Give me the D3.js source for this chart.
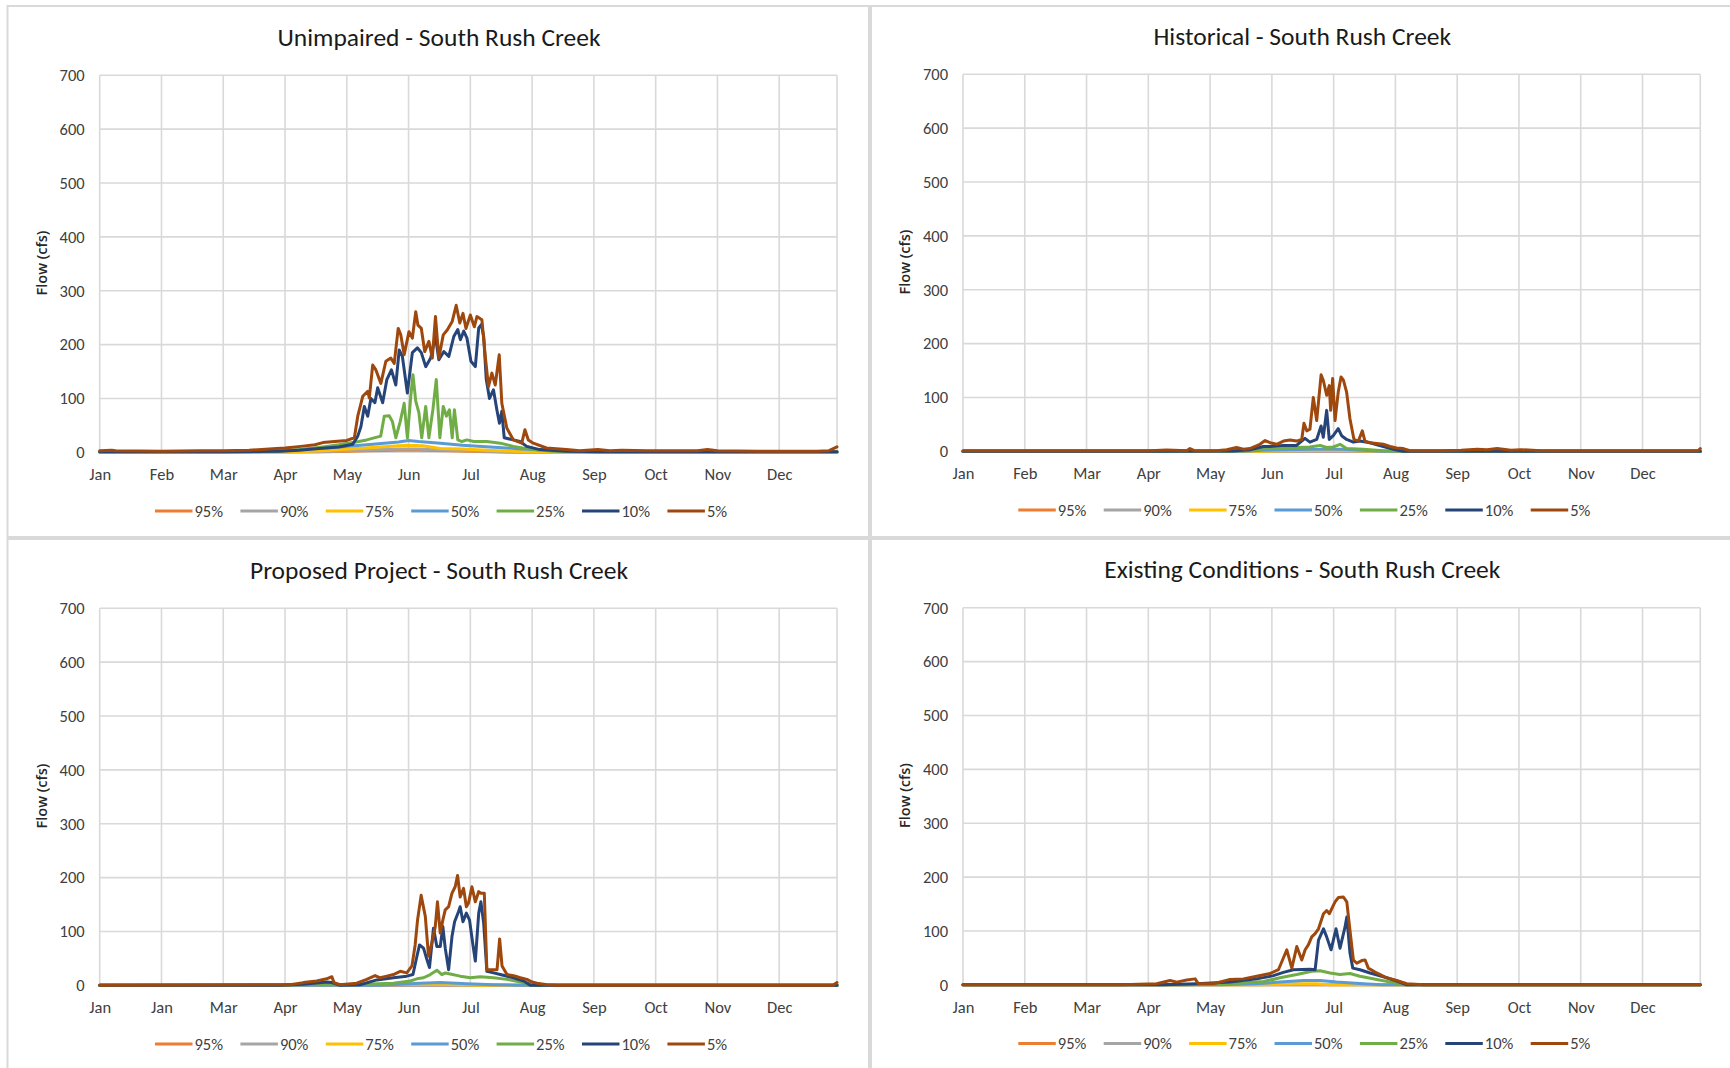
<!DOCTYPE html>
<html><head><meta charset="utf-8">
<script src="https://cdn.jsdelivr.net/npm/d3@7"></script>
<style>
html,body{margin:0;padding:0;background:#fff;}
svg{display:block;}
</style></head>
<body>
<svg id="c" width="1730" height="1068"></svg>
<script>
// ---------- DATA ----------
const seriesNames = ["95%","90%","75%","50%","25%","10%","5%"];
const seriesColors = ["#ED7D31","#A5A5A5","#FFC000","#5B9BD5","#70AD47","#264478","#9E480E"];
const yTicks = [0,100,200,300,400,500,600,700];
const tickDays = [0,31,62,93,124,155,186,217,248,279,310,341];
const monthLabels = ["Jan","Feb","Mar","Apr","May","Jun","Jul","Aug","Sep","Oct","Nov","Dec"];
const monthLabelsProposed = ["Jan","Jan","Mar","Apr","May","Jun","Jul","Aug","Sep","Oct","Nov","Dec"];
const titles = ["Unimpaired - South Rush Creek","Historical - South Rush Creek","Proposed Project - South Rush Creek","Existing Conditions - South Rush Creek"];

// Unimpaired: [day, cfs]
const uni95 = [[0,0],[115,1],[135,3],[150,4],[160,4],[175,3],[195,1],[210,0],[370,0]];
const uni90 = [[0,0],[110,1],[130,4],[150,6],[160,6],[175,4],[195,2],[210,0],[370,0]];
const uni75 = [[0,0],[100,1],[112,3],[137,9],[154,13],[162,12],[171,7],[182,6],[200,3],[213,1],[230,0],[370,0]];
const uni50 = [[0,1],[80,1],[95,4],[120,10],[137,15],[150,19],[155,22],[160,20],[171,17],[182,13],[196,10],[212,6],[236,2],[250,1],[370,1]];
const uni25 = [[0,1],[62,1],[90,2],[101,5],[112,10],[120,14],[130,20],[134,23],[141,30],[142.8,67],[145.3,68],[146.9,57],[148.6,27],[150.8,57],[152.8,91],[154.4,27],[156.1,104],[157.2,144],[158.6,95],[160.2,73],[161.6,27],[163.6,85],[165.2,27],[167.2,79],[168.9,135],[170.7,27],[172.4,85],[174,67],[175.5,79],[176.9,27],[178,79],[179.7,23],[181.8,20],[184.3,23],[187.7,20],[194.3,20],[201,17],[207.6,11],[217.6,5],[227.6,2],[240,1],[370,1]];
const uni10 = [[0,1],[31,1],[62,1],[90,2],[100,4],[110,7],[120,10],[127,15],[129.5,30],[131.1,48],[132.8,85],[134.5,67],[136.1,100],[138.1,92],[139.5,120],[142,92],[144.1,135],[146.4,153],[148.6,125],[150.3,190],[151.9,178],[154.4,110],[156.9,185],[159.4,194],[161.4,185],[163.6,159],[166.1,175],[168.5,215],[170.2,172],[172.7,187],[175.2,178],[177.7,215],[179.7,228],[181,209],[182.7,225],[184.3,212],[186.3,169],[188.5,159],[190.2,231],[191.5,237],[192.7,215],[194,135],[195.6,100],[197.6,116],[199.3,79],[200.6,54],[201.8,76],[203,27],[207.6,23],[210.9,20],[214.3,11],[220.9,5],[234,2],[250,1],[370,1]];
const uni5 = [[0,3],[6,4],[8,3],[31,2],[50,3],[62,3],[75,4],[85,6],[93,8],[101,11],[108,14],[112,18],[117.8,20],[124,22],[127.8,27],[129.5,67],[132,104],[134.5,113],[135.3,101],[137,162],[138.6,153],[141.1,128],[143.6,169],[146.1,175],[147.8,165],[149.8,230],[151.1,218],[152.8,181],[155.2,224],[156.9,212],[158.6,261],[159.7,236],[161.4,230],[163.1,187],[165.2,206],[166.9,175],[168.5,252],[170.2,175],[172.4,218],[174.4,227],[176.9,243],[178.9,273],[180.7,240],[182.3,258],[183.8,230],[186,255],[188,233],[189.3,252],[191.8,246],[193.5,178],[195.1,122],[196.8,147],[198.5,125],[200.5,181],[201.8,91],[204.3,45],[207.6,23],[211.8,17],[213.4,42],[215.1,23],[217.6,17],[224.2,8],[234.2,5],[240.9,3],[250,5],[256,3],[262,4],[275,3],[300,3],[305,5],[310,3],[330,2],[345,2],[360,2],[366,3],[370,10]];

// Historical
const his95 = [[0,0],[370,0]];
const his90 = [[0,0],[370,0]];
const his75 = [[0,0],[150,0],[160,1],[185,2],[200,1],[210,0],[370,0]];
const his50 = [[0,0],[140,0],[150,2],[160,3],[175,4],[190,4],[200,2],[210,0],[370,0]];
const his25 = [[0,0],[130,0],[144,1],[149,2.5],[151.6,7],[154.1,5],[160.8,5],[167.4,7],[174.1,8],[179.2,11],[182.5,7],[185.8,8],[189.2,13],[192.5,5],[200.9,4],[210.9,1],[220,0],[370,0]];
const his10 = [[0,0],[100,0],[135.7,0.5],[144,3],[150.7,9],[154.1,9],[160.8,11],[167.4,11],[171.6,24],[174.1,17],[177.5,22],[179.7,47],[180.8,26],[182.5,76],[183.8,22],[185.8,29],[188.3,42],[190,29],[192.5,22],[195.9,17],[199.2,19],[204.2,16],[210.9,9],[217.6,2.5],[221,0],[370,0]];
const his5 = [[0,1],[60,1],[93.9,1],[102.2,2.5],[112.3,1],[113.9,5],[116.4,1],[127.3,1],[132.3,3],[137.3,7],[140.7,4],[144,5],[149,13],[151.6,20],[154.1,16],[157.4,13],[160.8,19],[164.1,21],[167.4,19],[170,22],[171.1,52],[172.5,38],[174.1,41],[175.8,100],[177.5,57],[179.7,142],[180.8,132],[182.5,104],[183.8,122],[184.5,76],[185.5,135],[186.7,57],[188.3,110],[189.7,138],[190.9,132],[192.5,110],[194.2,60],[196.2,22],[198.4,19],[200.4,38],[201.7,19],[204.2,16],[210.9,13],[214.3,9],[217.6,6],[221,5],[224.3,1],[240,1],[250,2],[258,4],[263,3],[268,5],[275,2],[280,3],[290,1],[369,1],[370,5]];

// Proposed Project
const pro95 = [[0,0],[370,0]];
const pro90 = [[0,0],[370,0]];
const pro75 = [[0,0],[120,0],[125,1],[150,2],[170,2],[180,1],[190,0],[370,0]];
const pro50 = [[0,0],[140,0],[160.8,4],[170.9,5],[184.3,3],[197.7,1],[210,0],[370,0]];
const pro25 = [[0,0],[95,0],[100,2],[112,4],[118,1],[125,1],[147.4,4],[155.8,8],[159.2,12],[162.5,14],[165.9,20],[169.2,28],[171.7,20],[173.4,23],[175.9,21],[180.9,17],[186,14],[191,16],[197.7,14],[204.4,11],[211.1,6],[219.5,0],[370,0]];
const pro10 = [[0,0],[90,0],[102.2,2],[113.9,6],[116.5,5],[120.6,0],[130.7,1],[139.1,10],[147.4,14],[154.1,17],[157.2,20],[159.2,54],[160.5,75],[162.5,69],[164.2,48],[165.5,33],[167.5,106],[169.2,72],[170.9,72],[172.2,109],[173.4,69],[175.1,29],[176.8,91],[178.1,118],[180.1,137],[180.9,146],[182.3,118],[184,134],[185.6,121],[187.3,75],[188.5,45],[190.2,134],[191.3,155],[192.7,115],[194.3,26],[197.7,23],[201,20],[207.7,14],[212.8,8],[216.1,0],[370,0]];
const pro5 = [[0,0],[80.4,1],[95.5,1],[102.2,5],[108.9,8],[113.9,12],[116.5,16],[117.6,5],[120.6,1],[129,4],[134,11],[138.2,18],[140.7,14],[144.1,17],[147.4,20],[150.8,26],[154.1,23],[156.7,36],[158.3,75],[159.5,121],[161.3,167],[163.4,128],[165,54],[166.7,79],[168.4,109],[169.5,155],[170.9,97],[172.2,121],[173.4,140],[175.1,146],[176.8,171],[178.4,183],[179.6,204],[180.9,164],[182.6,180],[184,146],[185.1,153],[186.8,183],[188.5,155],[190.2,174],[191.3,171],[193,171],[194.3,29],[197.7,29],[199.4,29],[200.7,86],[201.9,36],[204.4,20],[207.7,18],[211.1,14],[214.4,11],[217,6],[219.5,4],[224.5,1],[230,0],[368,0],[370,5]];

// Existing Conditions
const exi95 = [[0,0],[370,0]];
const exi90 = [[0,0],[370,0]];
const exi75 = [[0,0],[150,0],[167.5,2],[177.5,2],[184.2,0],[370,0]];
const exi50 = [[0,0],[130,0],[147.4,2],[159.1,5],[170.8,8],[179.2,8],[187.5,5],[201,2],[210,0],[370,0]];
const exi25 = [[0,0],[110,0],[134,2],[150.8,6],[159.1,13],[167.5,19],[175,25],[179.2,26],[184.2,22],[189.2,19],[194.2,21],[199.2,16],[207.6,10],[216,4],[221,0],[370,0]];
const exi10 = [[0,0],[100,0],[117.3,2],[134,5],[147.4,11],[155.8,17],[160.8,23],[165.8,28],[174.2,29],[176.7,28],[178.4,83],[180.9,104],[182.5,89],[184.7,65],[187.2,104],[189.2,68],[191.7,107],[192.6,126],[194.2,59],[195.6,31],[199.2,28],[204.3,22],[211,15],[217.6,7],[222.7,0],[370,0]];
const exi5 = [[0,0],[80,0],[83.9,0.5],[97.2,2],[103.9,8],[107.3,5],[112.3,9],[116.5,11],[118.1,2],[125.7,2],[134,10],[140.7,11],[147.4,16],[154.1,21],[158.3,28],[162.5,65],[165,31],[167.5,71],[170,46],[171.7,65],[173.3,74],[175,89],[176.7,95],[178.4,104],[180.9,132],[182.5,138],[183.9,132],[185,141],[186.7,154],[188.4,162],[190.9,163],[192.6,154],[194.2,101],[195.9,46],[197.6,40],[200.1,45],[201.8,46],[203.4,31],[207.6,22],[212.6,13],[217.6,8],[222.7,2],[231,0],[370,0]];

// ---------- DRAW ----------
const charts = [
  {title:titles[0], labels:monthLabels, series:[uni95,uni90,uni75,uni50,uni25,uni10,uni5], dx:0, dy:0},
  {title:titles[1], labels:monthLabels, series:[his95,his90,his75,his50,his25,his10,his5], dx:863.3, dy:-1},
  {title:titles[2], labels:monthLabelsProposed, series:[pro95,pro90,pro75,pro50,pro25,pro10,pro5], dx:0, dy:533},
  {title:titles[3], labels:monthLabels, series:[exi95,exi90,exi75,exi50,exi25,exi10,exi5], dx:863.3, dy:532.5}
];

const svg = d3.select("#c");
const FONT = "Carlito, Calibri, Lato, sans-serif";
const grid = "#d9d9d9";

// panel borders
[[7.5,6,861.5,531],[871,6,880,531],[7.5,539,861.5,540],[871,539,880,540]].forEach(r=>{
  svg.append("rect").attr("x",r[0]).attr("y",r[1]).attr("width",r[2]).attr("height",r[3])
    .attr("fill","#fff").attr("stroke",grid).attr("stroke-width",2);
});

const L = 99.7, R = 837, T = 75.3, B = 452.3;

charts.forEach(ch=>{
  const g = svg.append("g").attr("transform",`translate(${ch.dx},${ch.dy})`);
  const x = d3.scaleLinear().domain([0,370]).range([L,R]);
  const y = d3.scaleLinear().domain([0,700]).range([B,T]);

  // gridlines
  g.append("g").selectAll("line").data(yTicks).join("line")
    .attr("x1",L).attr("x2",R).attr("y1",d=>y(d)).attr("y2",d=>y(d))
    .attr("stroke",grid).attr("stroke-width",1.6);
  g.append("g").selectAll("line").data(tickDays.concat([370])).join("line")
    .attr("x1",d=>x(d)).attr("x2",d=>x(d)).attr("y1",T).attr("y2",B)
    .attr("stroke",grid).attr("stroke-width",1.6);

  // axes
  const ya = g.append("g").attr("transform",`translate(${L},0)`)
    .call(d3.axisLeft(y).tickValues(yTicks).tickSize(0).tickPadding(15));
  ya.select(".domain").remove();
  ya.selectAll("text").attr("font-family",FONT).attr("font-size",16.5).attr("fill","#404040");

  const xa = g.append("g").attr("transform",`translate(0,${B})`)
    .call(d3.axisBottom(x).tickValues(tickDays).tickFormat((d,i)=>ch.labels[i]).tickSize(0).tickPadding(16));
  xa.select(".domain").remove();
  xa.selectAll("text").attr("font-family",FONT).attr("font-size",16.5).attr("fill","#404040");

  // title
  g.append("text").attr("x",439).attr("y",45.5).attr("text-anchor","middle")
    .attr("font-family",FONT).attr("font-size",25.5).attr("fill","#1a1a1a").text(ch.title);

  // y label
  g.append("text").attr("transform","translate(47,263) rotate(-90)").attr("text-anchor","middle")
    .attr("font-family","'Open Sans', 'Noto Sans', sans-serif").attr("font-size",14.5).attr("font-weight",600)
    .attr("fill","#262626").text("Flow (cfs)");

  // lines
  const line = d3.line().x(d=>x(d[0])).y(d=>y(d[1]));
  ch.series.forEach((s,i)=>{
    g.append("path").datum(s).attr("d",line).attr("fill","none")
      .attr("stroke",seriesColors[i]).attr("stroke-width",3)
      .attr("stroke-linejoin","round").attr("stroke-linecap","round");
  });

  // legend
  const lg = g.append("g");
  seriesNames.forEach((n,i)=>{
    const lx = 155 + i*85.4;
    lg.append("line").attr("x1",lx).attr("x2",lx+37.5).attr("y1",511).attr("y2",511)
      .attr("stroke",seriesColors[i]).attr("stroke-width",3.2);
    lg.append("text").attr("x",lx+39.5).attr("y",511).attr("dy","0.35em")
      .attr("font-family",FONT).attr("font-size",16.5).attr("fill","#404040").text(n);
  });
});
</script>
</body></html>
